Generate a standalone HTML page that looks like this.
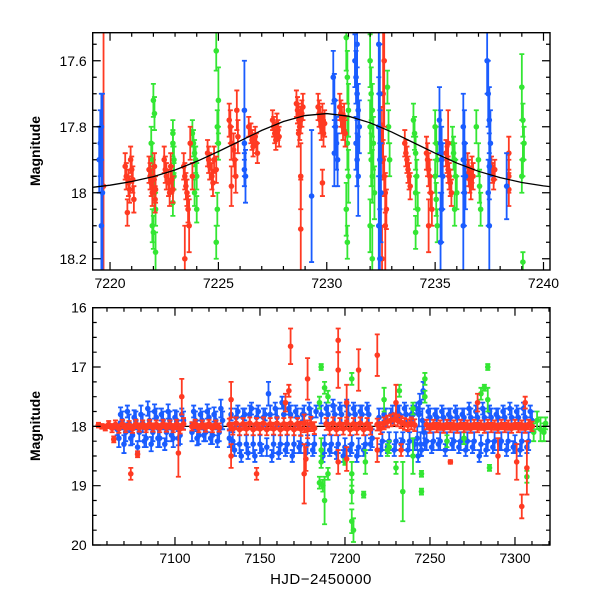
<!DOCTYPE html>
<html><head><meta charset="utf-8"><style>
html,body{margin:0;padding:0;background:#fff;}
svg{display:block;font-family:"Liberation Sans",sans-serif;}
</style></head><body>
<svg id="c" width="600" height="600" viewBox="0 0 600 600">
<rect width="600" height="600" fill="#fff"/>
</svg>
<script>
// ---- Top panel data [HJD, mag, err] ----
const topRed=[[7219.7,17.98,0.5],[7220.7,17.92,.04],[7220.75,17.95,.04],[7220.8,18.06,.04],[7220.85,17.97,.04],[7220.9,17.99,.04],[7221.0,17.93,.04],[7221.05,17.96,.04],[7221.1,18.02,.04],[7220.95,17.9,.04],
[7221.8,17.93,.04],[7221.85,17.95,.04],[7221.9,17.97,.04],[7221.95,18.0,.04],[7222.0,17.96,.04],[7222.05,17.92,.04],[7222.1,17.99,.04],[7222.08,18.02,.04],
[7222.5,17.9,.04],[7222.55,17.93,.04],[7222.6,17.95,.04],[7222.7,17.97,.04],[7222.75,18.0,.04],[7222.8,17.92,.04],[7222.85,17.96,.04],[7222.9,17.99,.04],
[7223.4,17.92,.04],[7223.45,17.95,.04],[7223.5,17.98,.04],[7223.55,18.0,.04],[7223.6,18.05,.04],[7223.65,18.1,.08],[7223.45,18.2,.1],[7223.7,17.85,.05],[7223.8,17.95,.04],
[7224.5,17.88,.04],[7224.55,17.9,.04],[7224.6,17.92,.04],[7224.7,17.95,.04],[7224.75,17.97,.04],[7224.8,17.9,.04],[7224.9,17.93,.04],
[7225.5,17.78,.05],[7225.55,17.8,.05],[7225.6,17.85,.05],[7225.7,17.87,.05],[7225.75,17.9,.05],[7225.8,17.95,.05],[7225.6,17.98,.06],[7225.85,17.75,.06],[7225.9,17.83,.05],
[7226.4,17.8,.03],[7226.5,17.82,.03],[7226.55,17.84,.03],[7226.6,17.86,.03],[7226.7,17.83,.03],[7226.75,17.85,.03],[7226.8,17.88,.03],
[7227.5,17.78,.03],[7227.55,17.8,.03],[7227.6,17.82,.03],[7227.65,17.84,.03],[7227.7,17.79,.03],[7227.75,17.81,.03],[7227.8,17.83,.03],
[7228.6,17.73,.04],[7228.65,17.75,.04],[7228.7,17.77,.04],[7228.75,17.8,.04],[7228.8,17.78,.04],[7228.85,17.76,.04],[7228.9,17.74,.04],[7228.7,17.82,.04],[7228.8,17.95,.1],[7228.8,18.11,.15],
[7229.6,17.74,.04],[7229.65,17.76,.04],[7229.7,17.78,.04],[7229.75,17.8,.04],[7229.8,17.77,.04],[7229.85,17.82,.04],[7229.9,17.79,.04],[7229.8,17.97,.04],
[7230.6,17.74,.04],[7230.65,17.76,.04],[7230.7,17.78,.04],[7230.75,17.8,.04],[7230.8,17.77,.04],[7230.85,17.82,.04],
[7232.5,17.8,.06],[7232.55,17.85,.06],[7232.6,17.9,.06],[7232.65,17.95,.06],[7232.7,18.0,.06],[7232.75,18.05,.06],[7232.6,17.7,.2],[7232.7,18.1,.15],[7232.65,17.6,.2],[7232.55,18.2,.1],
[7233.6,17.85,.04],[7233.65,17.88,.04],[7233.7,17.9,.04],[7233.75,17.93,.04],[7233.8,17.95,.04],[7233.85,17.98,.04],
[7234.6,17.88,.05],[7234.65,17.9,.05],[7234.7,17.93,.05],[7234.75,17.95,.05],[7234.8,18.0,.05],[7234.85,18.05,.05],[7234.7,18.1,.08],
[7235.5,17.88,.04],[7235.55,17.9,.04],[7235.6,17.93,.04],[7235.65,17.95,.04],[7235.7,17.97,.04],[7235.75,18.0,.04],[7235.6,17.85,.1],
[7236.5,17.92,.04],[7236.55,17.94,.04],[7236.6,17.96,.04],[7236.65,17.98,.04],[7236.7,17.93,.04],[7236.75,17.95,.04],
[7237.6,17.92,.03],[7237.65,17.94,.03],[7237.7,17.96,.03],[7237.75,17.93,.03],
[7238.4,17.88,.05],[7238.4,17.95,.05],[7238.4,17.99,.05]];
const topGreen=[[7221.9,17.85,.05],[7221.95,17.9,.05],[7222.0,17.95,.05],[7222.05,18.0,.05],[7222.1,18.05,.05],[7222.0,17.72,.05],[7222.05,17.76,.05],[7221.95,18.1,.05],[7222.1,18.18,.06],[7222.0,18.12,.05],
[7222.9,17.82,.04],[7222.9,17.85,.04],[7222.95,17.9,.04],[7222.95,17.95,.04],[7222.9,18.03,.04],
[7223.8,17.82,.04],[7223.85,17.85,.04],[7223.9,17.88,.04],[7223.95,17.9,.04],[7224.0,17.95,.04],[7223.9,18.0,.04],[7224.0,18.05,.04],
[7224.9,17.57,.06],[7225.0,17.72,.1],[7224.95,17.8,.05],[7225.0,17.85,.05],[7224.95,18.05,.05],[7224.9,18.15,.05],
[7230.9,17.53,.1],[7230.95,17.65,.08],[7231.0,17.75,.08],[7230.95,17.85,.08],[7231.0,17.95,.08],[7230.9,18.05,.08],[7230.95,18.15,.05],
[7232.0,17.6,.08],[7232.05,17.7,.08],[7232.1,17.75,.08],[7232.0,17.8,.08],[7232.15,17.85,.08],[7232.05,17.9,.08],[7232.1,17.95,.08],[7232.2,18.0,.08],[7232.0,18.1,.08],[7232.1,18.2,.1],
[7232.8,17.68,.05],[7232.85,17.8,.05],[7232.9,17.9,.05],
[7234.0,17.78,.05],[7234.05,17.82,.05],[7234.1,17.88,.05],[7234.15,17.95,.05],[7234.1,18.0,.05],[7234.2,18.05,.05],[7234.1,18.12,.05],
[7235.0,17.8,.05],[7235.05,17.85,.05],[7235.1,17.9,.05],[7235.0,17.95,.05],[7235.05,18.02,.05],[7235.1,18.1,.05],
[7235.8,17.85,.05],[7235.85,17.88,.05],[7235.9,17.9,.05],[7235.95,17.95,.05],[7236.0,18.0,.05],[7235.9,18.05,.05],
[7236.9,17.8,.05],[7237.0,17.9,.05],[7237.05,17.98,.05],[7237.1,18.05,.05],
[7239.0,17.68,.1],[7239.05,17.78,.05],[7239.1,17.85,.05],[7239.05,17.9,.05],[7239.0,17.95,.05],[7239.05,18.21,.03]];
const topBlue=[[7219.5,17.9,.1],[7219.55,17.85,.1],[7219.6,17.8,.1],[7219.6,18.1,.2],[7219.65,18.0,.3],
[7226.2,17.75,.15],[7226.2,17.85,.1],[7226.25,17.95,.08],[7226.2,17.93,.05],
[7229.3,18.01,.2],
[7230.3,17.65,.08],[7230.35,17.72,.08],[7230.4,17.8,.08],[7230.45,17.85,.08],[7230.5,17.9,.08],[7230.35,17.88,.1],
[7231.3,17.6,.08],[7231.35,17.65,.08],[7231.4,17.7,.08],[7231.45,17.75,.08],[7231.5,17.8,.08],[7231.35,17.85,.08],[7231.4,17.9,.08],[7231.45,17.95,.12],[7231.4,17.55,.12],
[7232.4,17.55,.15],[7232.45,17.7,.15],[7232.4,17.8,.15],[7232.45,17.9,.15],[7232.5,18.0,.15],[7232.4,18.1,.15],[7232.45,18.2,.15],
[7235.2,17.78,.1],[7235.25,17.85,.1],[7235.3,17.9,.1],[7235.35,17.95,.1],[7235.3,18.05,.1],[7235.25,18.15,.15],
[7236.3,17.8,.1],[7236.35,17.85,.1],[7236.3,17.9,.1],[7236.4,17.95,.1],[7236.35,18.0,.1],[7236.3,18.1,.15],
[7237.4,17.6,.1],[7237.45,17.7,.1],[7237.5,17.78,.1],[7237.55,17.85,.1],[7237.5,17.92,.1],[7237.45,18.0,.1],[7237.5,18.1,.2],
[7238.3,17.98,.1]];
const modelT=[7219,7220,7221,7222,7223,7224,7225,7226,7227,7228,7229,7230,7231,7232,7233,7234,7235,7236,7237,7238,7239,7240,7241];
const modelM=[17.985,17.977,17.966,17.951,17.931,17.905,17.875,17.843,17.811,17.784,17.766,17.76,17.768,17.788,17.816,17.848,17.88,17.91,17.935,17.954,17.969,17.979,17.987];
// ---- Bottom panel data ----
const botBlue=[[7066,18.05,.1],[7068,17.8,.12],[7070,18.3,.15],[7072,17.75,.1],[7074,18.2,.12],[7076,17.85,.12],[7078,18.35,.1],[7080,17.8,.15],[7082,18.25,.1],[7084,17.7,.12],[7086,18.3,.12],[7088,17.75,.12],[7090,18.2,.15],[7092,17.8,.1],[7094,18.3,.1],[7096,17.75,.12],[7098,18.15,.1],[7100,17.85,.12],[7102,18.2,.12],[7104,17.8,.1],
[7111,17.75,.1],[7113,18.2,.12],[7115,17.8,.1],[7117,18.15,.1],[7119,17.75,.12],[7121,18.2,.1],[7123,17.8,.12],[7125,18.25,.1],[7127,17.7,.15],
[7133,17.8,.1],[7135,18.4,.1],[7137,17.75,.1],[7139,18.5,.1],[7141,17.8,.1],[7143,18.45,.1],[7145,17.7,.1],[7147,18.5,.1],[7149,17.75,.1],[7151,18.4,.1],[7153,17.8,.1],[7155,17.45,.2],[7157,18.5,.1],[7159,17.7,.1],[7161,18.45,.1],[7163,17.6,.1],[7165,18.4,.1],[7167,17.7,.1],[7169,18.5,.1],[7171,17.75,.1],[7173,18.35,.1],[7175,17.8,.1],[7177,18.45,.1],[7179,17.7,.1],[7181,18.4,.1],[7183,17.75,.1],[7187,18.5,.1],[7189,17.7,.1],[7191,18.4,.1],[7193,17.65,.1],[7195,18.45,.1],[7197,17.7,.1],[7199,18.5,.1],[7201,17.65,.1],[7203,18.4,.1],[7205,17.7,.1],[7207,18.5,.1],[7209,17.75,.1],[7211,18.4,.1],[7213,17.7,.1],[7215,18.3,.1],[7221,18.4,.1],[7223,17.8,.1],[7225,18.35,.1],[7227,17.8,.1],[7229,18.4,.1],[7231,17.75,.1],[7233,18.3,.1],[7235,17.7,.1],[7237,18.4,.1],[7239,17.8,.1],[7241,18.3,.1],[7242,17.7,.1],[7243,18.5,.1],[7244,17.6,.15],[7245,18.4,.1],[7246,17.4,.15],[7247,18.3,.1],[7249,17.75,.1],[7251,18.35,.1],[7253,17.8,.1],[7255,18.3,.1],[7257,17.75,.1],[7259,18.4,.1],[7261,17.8,.1],[7263,18.3,.1],[7265,17.75,.1],[7267,18.35,.1],[7269,17.8,.1],[7271,18.4,.1],[7273,17.7,.1],[7275,18.35,.1],[7277,17.75,.1],[7279,18.5,.1],[7281,17.7,.1],[7283,18.4,.1],[7285,17.75,.1],[7287,18.35,.1],[7289,17.8,.1],[7291,18.3,.1],[7293,17.75,.1],[7295,18.4,.1],[7297,17.7,.1],[7299,18.35,.1],[7301,17.75,.1],[7303,18.4,.1],[7305,17.7,.1],[7307,18.35,.1],[7309,17.75,.1]];
const botBlue2=[[7067,18.2,.15],[7069,17.9,.15],[7071,18.1,.15],[7073,17.95,.15],[7075,18.15,.15],[7077,17.9,.15],[7079,18.1,.15],[7081,17.95,.15],[7083,18.2,.15],[7085,17.9,.15],[7087,18.1,.15],[7089,17.85,.15],[7091,18.2,.15],[7093,17.9,.15],[7095,18.1,.15],[7097,17.9,.15],[7099,18.2,.15],[7101,17.9,.15],[7103,18.15,.15],[7105,17.9,.15],
[7110,18.1,.15],[7112,17.9,.15],[7114,18.15,.15],[7116,17.9,.15],[7118,18.1,.15],[7120,17.85,.15],[7122,18.15,.15],[7124,17.9,.15],[7126,18.1,.15],[7128,17.9,.15],
[7132,18.2,.15],[7134,18.25,.15],[7136,17.85,.15],[7138,18.3,.15],[7140,17.85,.15],[7142,18.3,.15],[7144,17.8,.15],[7146,18.3,.15],[7148,17.85,.15],[7150,18.3,.15],[7152,17.85,.15],[7154,18.35,.15],[7156,17.8,.15],[7158,18.3,.15],[7160,17.85,.15],[7162,18.3,.15],[7164,17.8,.15],[7166,18.3,.15],[7168,17.8,.15],[7170,18.3,.15],[7172,17.85,.15],[7174,18.3,.15],[7176,17.8,.15],[7178,18.3,.15],[7180,17.85,.15],[7182,18.3,.15],[7186,17.8,.15],[7188,18.3,.15],[7190,17.8,.15],[7192,18.3,.15],[7194,17.8,.15],[7196,18.3,.15],[7198,17.8,.15],[7200,18.35,.15],[7202,17.8,.15],[7204,18.3,.15],[7206,17.8,.15],[7208,18.35,.15],[7210,17.8,.15],[7212,18.3,.15],[7214,17.8,.15],[7216,18.2,.15],
[7220,17.85,.15],[7222,18.25,.15],[7224,17.85,.15],[7226,18.25,.15],[7228,17.8,.15],[7230,18.25,.15],[7232,17.8,.15],[7234,18.25,.15],[7236,17.8,.15],[7238,18.25,.15],[7240,17.8,.15],[7242.5,18.2,.2],[7243.5,17.8,.2],[7244.5,18.3,.2],[7245.5,17.9,.2],[7246.5,18.1,.2],
[7248,18.25,.15],[7250,17.85,.15],[7252,18.25,.15],[7254,17.85,.15],[7256,18.25,.15],[7258,17.85,.15],[7260,18.25,.15],[7262,17.85,.15],[7264,18.25,.15],[7266,17.85,.15],[7268,18.25,.15],[7270,17.85,.15],[7272,18.25,.15],[7274,17.85,.15],[7276,18.25,.15],[7278,17.85,.15],[7280,18.3,.15],[7282,17.85,.15],[7284,18.25,.15],[7286,17.85,.15],[7288,18.25,.15],[7290,17.85,.15],[7292,18.25,.15],[7294,17.85,.15],[7296,18.25,.15],[7298,17.85,.15],[7300,18.3,.15],[7302,17.85,.15],[7304,18.25,.15],[7306,17.85,.15],[7308,18.25,.15],[7310,17.9,.15]];
const botGreen=[[7185,18.95,.1],[7186,18.6,.1],[7186,17.0,.05],[7187,19.0,.1],[7188,19.25,.4],[7186,18.4,.2],[7188,17.35,.1],[7185,17.6,.1],[7190,17.5,.1],[7200,18.6,.05],[7204,19.6,.2],[7204,19.1,.2],[7204,18.8,.2],[7204,17.2,.1],[7205,19.75,.2],[7211,19.15,.05],[7212,18.6,.2],[7223,17.55,.2],[7226,18.35,.1],[7230,18.7,.1],[7232,17.4,.1],[7234,19.1,.5],[7240,17.7,.1],[7240,18.5,.3],[7245,18.8,.05],[7245,19.1,.05],[7247,17.2,.1],[7247,17.5,.1],[7280,17.45,.1],[7282,17.35,.05],[7284,17.0,.05],[7285,18.7,.05],[7284,17.55,.2],[7311,18.1,.15],[7313,17.9,.15],[7315,18.05,.2],[7317,18.1,.15],[7318,17.95,.1],[7307,18.85,.1],[7260,18.25,.1],[7270,18.2,.1],[7225,18.4,.1],[7190,18.8,.1]];
const botRedBand=[[7055,17.98,.04],[7057,18.0,.04],[7059,18.02,.05],[7061,17.97,.06],[7063,18.03,.07],[7065,17.97,.07],[7067,18.04,.07],[7069,17.96,.07],[7071,18.03,.07],[7073,17.98,.07],[7075,18.04,.07],[7077,17.96,.07],[7079,18.02,.07],[7081,17.97,.07],[7083,18.03,.07],[7085,17.96,.07],[7087,18.02,.07],[7089,17.97,.07],[7091,18.03,.07],[7093,17.96,.07],[7095,18.02,.07],[7097,17.97,.07],[7099,18.03,.07],[7101,17.96,.07],[7103,18.04,.08],[7105,17.96,.1],
[7110,18.0,.07],[7112,17.96,.07],[7114,18.03,.07],[7116,17.97,.07],[7118,18.02,.07],[7120,17.96,.07],[7122,18.03,.07],[7124,17.97,.07],[7126,18.02,.07],
[7132,17.97,.1],[7134,18.04,.1],[7136,17.95,.1],[7138,18.05,.1],[7140,17.96,.1],[7142,18.04,.1],[7144,17.95,.1],[7146,18.05,.1],[7148,17.96,.1],[7150,18.04,.1],[7152,17.95,.1],[7154,18.05,.1],[7156,17.96,.1],[7158,18.04,.1],[7160,17.95,.1],[7162,18.05,.1],[7164,17.96,.1],[7166,18.04,.1],[7168,17.95,.1],[7170,18.05,.1],[7172,17.96,.1],[7174,18.04,.12],[7176,17.95,.15],[7178,18.05,.15],[7180,17.96,.12],[7182,18.03,.1],
[7189,17.96,.1],[7191,18.04,.1],[7193,17.95,.1],[7195,18.05,.1],[7197,17.96,.1],[7199,18.04,.1],[7201,17.95,.1],[7203,18.05,.1],[7205,17.96,.1],[7207,18.04,.1],[7209,17.95,.1],[7211,18.05,.1],[7213,17.96,.1],[7215,18.04,.1],
[7219,17.97,.1],[7221,18.03,.1],[7223,17.95,.1],[7225,17.92,.1],[7227,17.9,.1],[7229,17.88,.1],[7231,17.9,.1],[7233,17.93,.1],[7235,17.96,.1],[7237,17.98,.1],[7239,17.95,.1],[7241,17.98,.1],
[7248,17.97,.08],[7250,18.03,.08],[7252,17.97,.08],[7254,18.02,.08],[7256,17.98,.08],[7258,18.03,.08],[7260,17.97,.08],[7262,18.02,.08],[7264,17.98,.08],[7266,18.03,.08],[7268,17.97,.08],[7270,18.02,.08],[7272,17.98,.08],[7274,18.03,.08],[7276,17.97,.08],[7278,18.02,.08],[7280,17.98,.08],[7282,18.03,.08],[7284,17.97,.08],[7286,18.02,.08],[7288,17.98,.08],[7290,18.03,.08],[7292,17.97,.08],[7294,18.02,.08],[7296,17.98,.08],[7298,18.03,.08],[7300,17.97,.08],[7302,18.02,.08],[7304,17.98,.08],[7306,18.03,.08],[7308,17.97,.08],[7310,18.0,.08]];
const botRedOut=[[7064,18.22,.05],[7074,18.8,.1],[7078,18.47,.05],[7102,18.45,.4],[7104,17.5,.3],[7133,17.55,.3],[7133,18.5,.2],[7148,18.8,.1],[7167,17.4,.1],[7168,16.65,.3],[7176,18.8,.5],[7177,18.55,.2],[7178,17.2,.35],[7196,16.55,.2],[7196,17.05,.3],[7196,18.6,.2],[7201,18.55,.2],[7201,17.6,.3],[7208,17.05,.35],[7219,16.8,.35],[7219,18.4,.2],[7230,17.6,.3],[7233,18.4,.1],[7278,17.6,.15],[7290,18.5,.3],[7301,18.6,.3],[7304,19.35,.2],[7307,18.7,.45],[7306,17.6,.1],[7262,18.6,.03],[7165,17.6,.15]];
const topXTicks=[7220,7225,7230,7235,7240];
const topYTicks=[17.6,17.8,18,18.2];
const botXTicks=[7100,7150,7200,7250,7300];
const botYTicks=[16,17,18,19,20];

const NS='http://www.w3.org/2000/svg';
const svg=document.getElementById('c');
function mk(tag,attrs,parent){const e=document.createElementNS(NS,tag);for(const k in attrs)e.setAttribute(k,attrs[k]);(parent||svg).appendChild(e);return e;}
const RED='#ff3a22',GREEN='#33e633',BLUE='#1a5cff';

function panel(name,L,R,T,B,x0,x1,y0,y1,xt,yt,xminor,yminor,fmtY){
  const sx=v=>L+(v-x0)/(x1-x0)*(R-L);
  const sy=v=>T+(v-y0)/(y1-y0)*(B-T);
  const g=mk('g',{});
  
  
  const clip=mk('clipPath',{id:name+'-clip'},g);
  mk('rect',{x:L,y:T,width:R-L,height:B-T},clip);
  const plot=mk('g',{'clip-path':'url(#'+name+'-clip)'},g);
  
  
  return {g,plot,sx,sy,L,R,T,B,x0,x1,y0,y1,xt,yt,xminor,yminor,fmtY,name};
}
function series(P,data,color,sname,r,w){
  const g=mk('g',{},P.plot);
  
  
  for(const d of data){
    const x=P.sx(d[0]),y=P.sy(d[1]),ya=P.sy(d[1]-d[2]),yb=P.sy(d[1]+d[2]);
    const p=mk('path',{d:`M${x} ${ya}V${yb}M${x-2.5} ${ya}h5M${x-2.5} ${yb}h5`,stroke:color,'stroke-width':w,fill:'none'},g);
    
    
    const c=mk('circle',{cx:x,cy:y,r:r,fill:color},g);
    
    
  }
}
function axes(P){
  const g=mk('g',{},P.g);
  
  
  let d='';
  for(let v=Math.ceil(P.x0/P.xminor)*P.xminor;v<=P.x1;v+=P.xminor){
    const x=P.sx(v);const maj=P.xt.some(t=>Math.abs(t-v)<1e-6);const l=maj?8:4;
    d+=`M${x} ${P.B}v${-l}M${x} ${P.T}v${l}`;
  }
  const ymin=Math.min(P.y0,P.y1),ymax=Math.max(P.y0,P.y1);
  for(let k=Math.ceil(ymin/P.yminor-1e-6);k*P.yminor<=ymax+1e-9;k++){
    const v=k*P.yminor;const y=P.sy(v);const maj=P.yt.some(t=>Math.abs(t-v)<1e-6);const l=maj?8:4;
    d+=`M${P.L} ${y}h${l}M${P.R} ${y}h${-l}`;
  }
  mk('path',{d,stroke:'#000','stroke-width':1.2,fill:'none'},g);
  const fr=mk('rect',{x:P.L,y:P.T,width:P.R-P.L,height:P.B-P.T,fill:'none',stroke:'#000','stroke-width':1.4},g);
  
  
  for(const t of P.xt){
    const tx=mk('text',{x:P.sx(t),y:P.B+18,'font-size':14,'text-anchor':'middle',fill:'#000'},g);
    tx.textContent=t;
    
    
  }
  for(const t of P.yt){
    const tx=mk('text',{x:P.L-6,y:P.sy(t)+5,'font-size':14,'text-anchor':'end',fill:'#000'},g);
    tx.textContent=P.fmtY(t);
    
    
  }
}

// Top panel
const P1=panel('top-panel',92.7,550,32.7,270,7219.2,7240.3,17.515,18.234,topXTicks,topYTicks,1,0.05,v=>String(v));
series(P1,topGreen,GREEN,'top-green-series',2.8,1.8);
series(P1,topRed,RED,'top-red-series',2.8,1.8);
series(P1,topBlue,BLUE,'top-blue-series',2.8,1.8);
const mline=mk('polyline',{points:modelT.map((t,i)=>P1.sx(t)+','+P1.sy(modelM[i])).join(' '),fill:'none',stroke:'#000','stroke-width':1.3},P1.plot);


axes(P1);

// Bottom panel
const P2=panel('bottom-panel',92.7,550,307.7,545,7051.6,7320.6,16,20,botXTicks,botYTicks,10,0.25,v=>String(v));
const ml=mk('line',{x1:P2.L,x2:P2.R,y1:P2.sy(18),y2:P2.sy(18),stroke:'#000','stroke-width':1.2},P2.plot);


series(P2,botBlue,BLUE,'bottom-blue-series',2.8,1.8);
series(P2,botBlue2,BLUE,'bottom-blue-series-2',2.8,1.8);
series(P2,botGreen,GREEN,'bottom-green-series',2.8,1.8);
series(P2,botRedBand,RED,'bottom-red-series',3,1.8);
series(P2,botRedOut,RED,'bottom-red-outliers',2.8,1.8);
axes(P2);

// Axis titles
const t1=mk('text',{x:0,y:0,'font-size':14,'font-weight':'bold','text-anchor':'middle',transform:'translate(40,151) rotate(-90)'});
t1.textContent='Magnitude';


const t2=mk('text',{x:0,y:0,'font-size':14,'font-weight':'bold','text-anchor':'middle',transform:'translate(40,426) rotate(-90)'});
t2.textContent='Magnitude';


const t3=mk('text',{x:321,y:584,'font-size':15,'text-anchor':'middle','letter-spacing':'0.5'});
t3.textContent='HJD\u22122450000';


</script>
</body></html>
